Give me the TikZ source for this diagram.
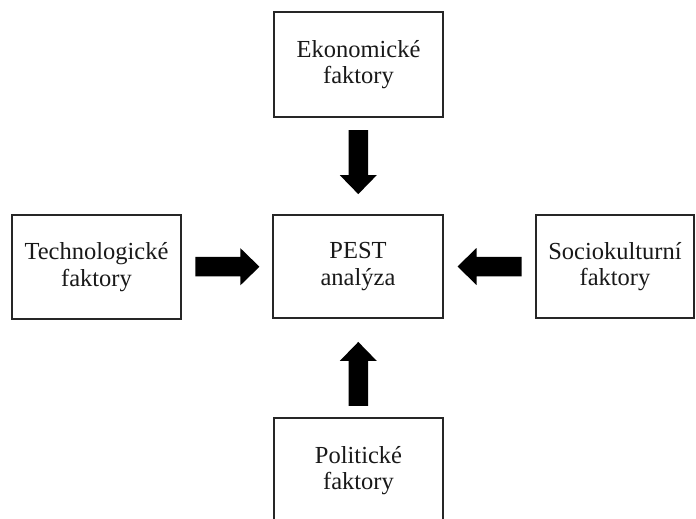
\documentclass[tikz,border=0pt]{standalone}
\usepackage{fontspec}
\setmainfont{Liberation Serif}
\usetikzlibrary{calc}
\begin{document}
\begin{tikzpicture}[x=1pt,y=1pt,
  factorbox/.style={draw=black!85, line width=1.2pt, fill=white,
    align=center, inner sep=0pt, text=black!90,
    font=\fontsize{24.5}{26.5}\selectfont},
  pics/fatarrow/.style={code={
    \fill[black] (-32,-9.75) -- (13,-9.75) -- (13,-18.5) -- (32,0)
      -- (13,18.5) -- (13,9.75) -- (-32,9.75) -- cycle;}}]
  \clip (0,0) rectangle (696,-519);

  % factor boxes around the central analysis box
  \node[factorbox, minimum width=169pt, minimum height=105pt] (eko) at (358.5,-64.5) {Ekonomické\\faktory};
  \node[factorbox, minimum width=170pt, minimum height=103pt] (pest) at (358,-266.5) {PEST\\analýza};
  \node[factorbox, minimum width=169pt, minimum height=104pt] (tech) at (96.5,-267) {Technologické\\faktory};
  \node[factorbox, minimum width=158pt, minimum height=103pt] (socio) at (615,-266.5) {Sociokulturní\\faktory};
  \node[factorbox, minimum width=169pt, minimum height=105pt] (pol) at (358.5,-470.5) {Politické\\faktory};

  % block arrows pointing into the central box
  \pic[rotate=-90] (aeko) at ($(eko.south)!0.46!(pest.north)$) {fatarrow};
  \pic (atech) at ($(tech.east)!0.505!(pest.west)$) {fatarrow};
  \pic[rotate=180] (asocio) at ($(socio.west)!0.5!(pest.east)$) {fatarrow};
  \pic[rotate=90] (apol) at ($(pol.north)!0.44!(pest.south)$) {fatarrow};
\end{tikzpicture}
\end{document}
